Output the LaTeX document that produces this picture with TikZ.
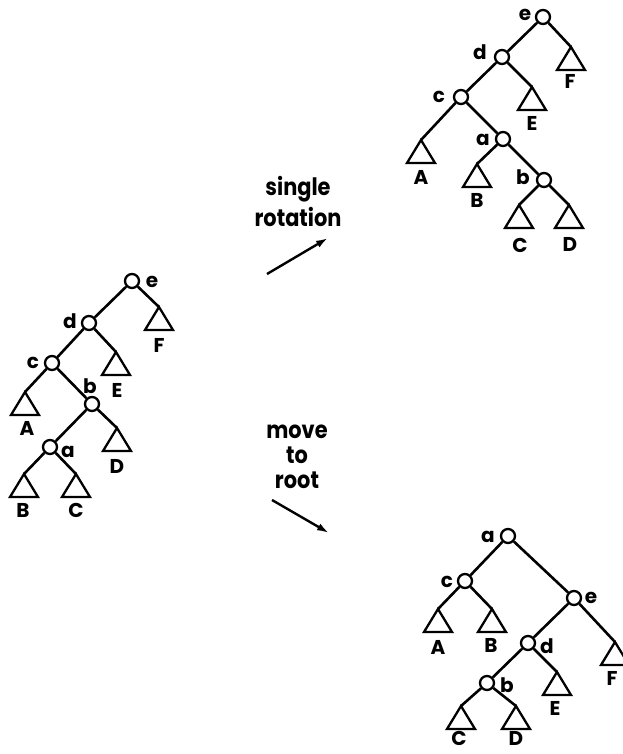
\documentclass[tikz,border=0pt]{standalone}
\usepackage{fontspec}
\setmainfont{Poppins}
\newfontfamily\capfont[FakeStretch=0.87]{Poppins}
\usetikzlibrary{arrows.meta}
\newcommand{\subtri}[3]{%
  \coordinate (#1) at (#2,#3);
  \draw[subtree] (#1) -- ++(-14,23) -- ++(28,0) -- cycle;}
\begin{document}
\begin{tikzpicture}[x=1pt,y=-1pt,
  treenode/.style={circle,draw,fill=white,line width=2.3pt,minimum size=14pt,inner sep=0pt},
  edge/.style={line width=2.6pt},
  lbl/.style={anchor=base,inner sep=0pt,font=\fontsize{20}{20}\selectfont\bfseries},
  subtree/.style={line width=2.3pt,line join=miter},
  caption/.style={align=center,anchor=north,inner sep=0pt},
  arr/.style={line width=2.4pt,-{Latex[length=12pt,width=7.5pt]}}]
\useasboundingbox (0,0) rectangle (622,754);

% ---------- left tree ----------
\node[treenode] (Le) at (132,281) {};
\node[treenode] (Ld) at (89,323) {};
\node[treenode] (Lc) at (52,363) {};
\node[treenode] (Lb) at (92,404) {};
\node[treenode] (La) at (50,447) {};
\subtri{LF}{159}{307}
\subtri{LE}{116}{352}
\subtri{LA}{25}{392}
\subtri{LD}{117}{428}
\subtri{LB}{24}{474}
\subtri{LC}{76}{474}
\draw[edge] (Le) -- (Ld);
\draw[edge] (Le) -- (LF);
\draw[edge] (Ld) -- (Lc);
\draw[edge] (Ld) -- (LE);
\draw[edge] (Lc) -- (LA);
\draw[edge] (Lc) -- (Lb);
\draw[edge] (Lb) -- (La);
\draw[edge] (Lb) -- (LD);
\draw[edge] (La) -- (LB);
\draw[edge] (La) -- (LC);
\node[lbl] (Lle) at (152,287) {e};
\node[lbl] (Lld) at (70,328) {d};
\node[lbl] (Llc) at (33,368) {c};
\node[lbl] (Llb) at (90,393) {b};
\node[lbl] (Lla) at (68,457) {a};
\node[lbl] (LlF) at (159,352) {F};
\node[lbl] (LlE) at (117,397) {E};
\node[lbl] (LlA) at (27,435) {A};
\node[lbl] (LlD) at (117,473) {D};
\node[lbl] (LlB) at (23,517) {B};
\node[lbl] (LlC) at (76,517) {C};

% ---------- top right tree ----------
\node[treenode] (Re) at (543,17) {};
\node[treenode] (Rd) at (502,57) {};
\node[treenode] (Rc) at (461,97) {};
\node[treenode] (Ra) at (503,139) {};
\node[treenode] (Rb) at (544,180) {};
\subtri{RF}{571}{47}
\subtri{RE}{532}{87}
\subtri{RA}{421}{140}
\subtri{RB}{477}{164}
\subtri{RC}{519}{205}
\subtri{RD}{569}{205}
\draw[edge] (Re) -- (Rd);
\draw[edge] (Re) -- (RF);
\draw[edge] (Rd) -- (Rc);
\draw[edge] (Rd) -- (RE);
\draw[edge] (Rc) -- (RA);
\draw[edge] (Rc) -- (Ra);
\draw[edge] (Ra) -- (RB);
\draw[edge] (Ra) -- (Rb);
\draw[edge] (Rb) -- (RC);
\draw[edge] (Rb) -- (RD);
\node[lbl] (Rle) at (525,21) {e};
\node[lbl] (Rld) at (480,60) {d};
\node[lbl] (Rlc) at (439,103) {c};
\node[lbl] (Rla) at (483,146) {a};
\node[lbl] (Rlb) at (523,185) {b};
\node[lbl] (RlF) at (570,89) {F};
\node[lbl] (RlE) at (532,131) {E};
\node[lbl] (RlA) at (421,184) {A};
\node[lbl] (RlB) at (477,207) {B};
\node[lbl] (RlC) at (520,252) {C};
\node[lbl] (RlD) at (570,251) {D};

% ---------- bottom right tree ----------
\node[treenode] (Ma) at (508,536) {};
\node[treenode] (Mc) at (465,581) {};
\node[treenode] (Me) at (574,598) {};
\node[treenode] (Md) at (528,643) {};
\node[treenode] (Mb) at (487,683) {};
\subtri{MA}{438}{609}
\subtri{MB}{492}{609}
\subtri{MF}{615}{642}
\subtri{ME}{557}{672}
\subtri{MC}{461}{706}
\subtri{MD}{516}{706}
\draw[edge] (Ma) -- (Mc);
\draw[edge] (Ma) -- (Me);
\draw[edge] (Mc) -- (MA);
\draw[edge] (Mc) -- (MB);
\draw[edge] (Me) -- (Md);
\draw[edge] (Me) -- (MF);
\draw[edge] (Md) -- (Mb);
\draw[edge] (Md) -- (ME);
\draw[edge] (Mb) -- (MC);
\draw[edge] (Mb) -- (MD);
\node[lbl] (Mla) at (488,542) {a};
\node[lbl] (Mlc) at (447,587) {c};
\node[lbl] (Mle) at (591,603) {e};
\node[lbl] (Mld) at (547,653) {d};
\node[lbl] (Mlb) at (507,692) {b};
\node[lbl] (MlA) at (438,654) {A};
\node[lbl] (MlB) at (491,652) {B};
\node[lbl] (MlF) at (612,685) {F};
\node[lbl] (MlE) at (555,715) {E};
\node[lbl] (MlC) at (459,745) {C};
\node[lbl] (MlD) at (516,745) {D};

% ---------- arrows ----------
\node[caption,font=\capfont\fontsize{24}{31}\selectfont\bfseries] (cap1) at (298,176) {single\\rotation};
\coordinate (s1) at (267,274);
\coordinate (t1) at (328,238);
\draw[arr] (s1) -- (t1);
\node[caption,font=\capfont\fontsize{24}{25}\selectfont\bfseries] (cap2) at (297,425) {move\\to\\root};
\coordinate (s2) at (272,500);
\coordinate (t2) at (329,533);
\draw[arr] (s2) -- (t2);
\end{tikzpicture}
\end{document}
